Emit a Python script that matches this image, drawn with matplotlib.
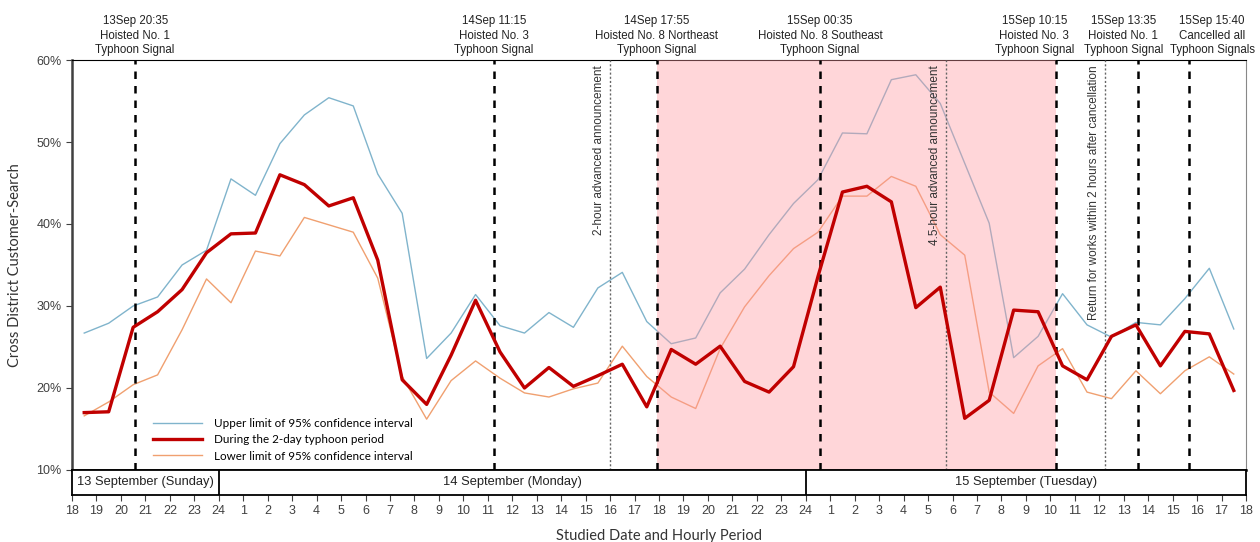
import numpy as np
import matplotlib
matplotlib.use('Agg')
import matplotlib.pyplot as plt
from matplotlib.ticker import PercentFormatter

# hours counted from 13 Sep 18:00, one value per hourly period
upper = [26.7, 27.9, 30.0, 31.1, 35.0, 36.8, 45.5, 43.5, 49.8, 53.3, 55.4, 54.4,
         46.1, 41.3, 23.6, 26.7, 31.4, 27.6, 26.7, 29.2, 27.4, 32.2, 34.1, 28.1,
         25.4, 26.1, 31.6, 34.5, 38.7, 42.5, 45.4, 51.1, 51.0, 57.6, 58.2, 54.7,
         47.4, 40.1, 23.7, 26.3, 31.5, 27.7, 26.2, 28.0, 27.7, 30.9, 34.6, 27.2]
typhoon = [17.0, 17.1, 27.4, 29.3, 32.0, 36.5, 38.8, 38.9, 46.0, 44.8, 42.2, 43.2,
           35.6, 21.0, 18.0, 24.0, 30.7, 24.4, 20.0, 22.5, 20.2, 21.5, 22.9, 17.7,
           24.7, 22.9, 25.1, 20.8, 19.5, 22.6, 33.6, 43.9, 44.6, 42.7, 29.8, 32.3,
           16.3, 18.5, 29.5, 29.3, 22.7, 21.0, 26.3, 27.7, 22.7, 26.9, 26.6, 19.7]
lower = [16.6, 18.3, 20.4, 21.6, 27.1, 33.3, 30.4, 36.7, 36.1, 40.8, 39.9, 39.0,
         33.4, 21.4, 16.2, 20.9, 23.3, 21.2, 19.4, 18.9, 19.9, 20.6, 25.1, 21.4,
         18.9, 17.5, 24.8, 29.9, 33.7, 37.0, 39.0, 43.4, 43.4, 45.8, 44.6, 38.7,
         36.2, 19.5, 16.9, 22.7, 24.8, 19.5, 18.7, 22.1, 19.3, 22.1, 23.8, 21.7]

signal_times = [2 + 35/60, 17.25, 23 + 55/60, 30 + 35/60, 40.25, 43 + 35/60, 45 + 40/60]
signal_labels = ['13Sep 20:35\nHoisted No. 1\nTyphoon Signal',
                 '14Sep 11:15\nHoisted No. 3\nTyphoon Signal',
                 '14Sep 17:55\nHoisted No. 8 Northeast\nTyphoon Signal',
                 '15Sep 00:35\nHoisted No. 8 Southeast\nTyphoon Signal',
                 '15Sep 10:15\nHoisted No. 3\nTyphoon Signal',
                 '15Sep 13:35\nHoisted No. 1\nTyphoon Signal',
                 '15Sep 15:40\nCancelled all\nTyphoon Signals']
label_shift = [0, 0, 0, 0, -0.9, -0.6, 0.95]

note_times = [22.0, 35.75, 42.25]
note_labels = ['2-hour advanced announcement',
               '4.5-hour advanced announcement',
               'Return for works within 2 hours after cancellation']

days = ['13 September (Sunday)', '14 September (Monday)', '15 September (Tuesday)']
day_edges = [0, 6, 30, 48]
hour_labels = [str((18 + h) % 24 or 24) for h in range(49)]

plt.rcParams['font.family'] = ['Liberation Sans', 'DejaVu Sans']

fig = plt.figure(figsize=(12.6, 5.42), dpi=100)
ax = fig.add_axes([72/1260, 72/542, 1174/1260, 410/542])
band = fig.add_axes([72/1260, 47/542, 1174/1260, 25/542], sharex=ax)

x = np.arange(len(typhoon)) + 0.5
ax.plot(x, upper, color='#80b4cc', lw=1.0, zorder=2,
        label='Upper limit of 95% confidence interval')
ax.plot(x, typhoon, color='#c00000', lw=2.4, zorder=6,
        label='During the 2-day typhoon period')
ax.plot(x, lower, color='#f0a070', lw=1.0, zorder=2,
        label='Lower limit of 95% confidence interval')

ax.axvspan(signal_times[2], signal_times[4], color='#ff9aa2', alpha=0.4, lw=0, zorder=3)

for t, lab, dx in zip(signal_times, signal_labels, label_shift):
    ax.axvline(t, color='black', lw=1.8, dashes=(3, 2.8), zorder=5)
    ax.annotate(lab, xy=(t + dx, 60), xytext=(0, 3), textcoords='offset points',
                ha='center', va='bottom', fontsize=8.3, color='#222222',
                linespacing=1.25, annotation_clip=False)

for t, lab in zip(note_times, note_labels):
    ax.axvline(t, color='#666666', lw=1.0, ls=(0, (1.5, 1.5)), zorder=5)
    ax.text(t - 0.2, 59.3, lab, rotation=90, ha='right', va='top',
            fontsize=8.5, color='#333333', zorder=7)

ax.set_xlim(0, 48)
ax.set_ylim(10, 60)
ax.set_yticks(range(10, 61, 10))
ax.yaxis.set_major_formatter(PercentFormatter(decimals=0))
ax.tick_params(axis='y', direction='out', length=4, labelsize=9, colors='#404040')
ax.tick_params(axis='x', bottom=False, labelbottom=False)
ax.spines['left'].set_linewidth(1.8)
ax.spines['left'].set_color('#404040')
ax.spines['bottom'].set_linewidth(1.8)
ax.spines['top'].set_linewidth(0.8)
ax.spines['right'].set_color('#888888')
ax.spines['right'].set_linewidth(0.8)
ax.set_ylabel('Cross District Customer-Search', family='Lato', fontsize=10.5,
              color='#333333', labelpad=10)

leg = ax.legend(loc='lower left', bbox_to_anchor=(0.06, -0.005), frameon=False,
                prop={'family': 'Lato', 'size': 8.4}, handlelength=4.2,
                labelspacing=0.45, handletextpad=1.0)

band.set_ylim(0, 1)
for e in day_edges[1:-1]:
    band.axvline(e, color='black', lw=1.3)
for d, a, b in zip(days, day_edges[:-1], day_edges[1:]):
    band.text((a + b) / 2, 0.5, d, ha='center', va='center', fontsize=9.3, color='#222222')
band.set_yticks([])
band.set_xticks(range(49))
band.set_xticklabels(hour_labels)
band.tick_params(axis='x', direction='out', length=4, labelsize=9, colors='#404040', pad=3)
for s in band.spines.values():
    s.set_linewidth(1.3)
band.set_xlabel('Studied Date and Hourly Period', family='Lato', fontsize=10.5,
                color='#333333', labelpad=9)

fig.savefig('out.png', dpi=100)
